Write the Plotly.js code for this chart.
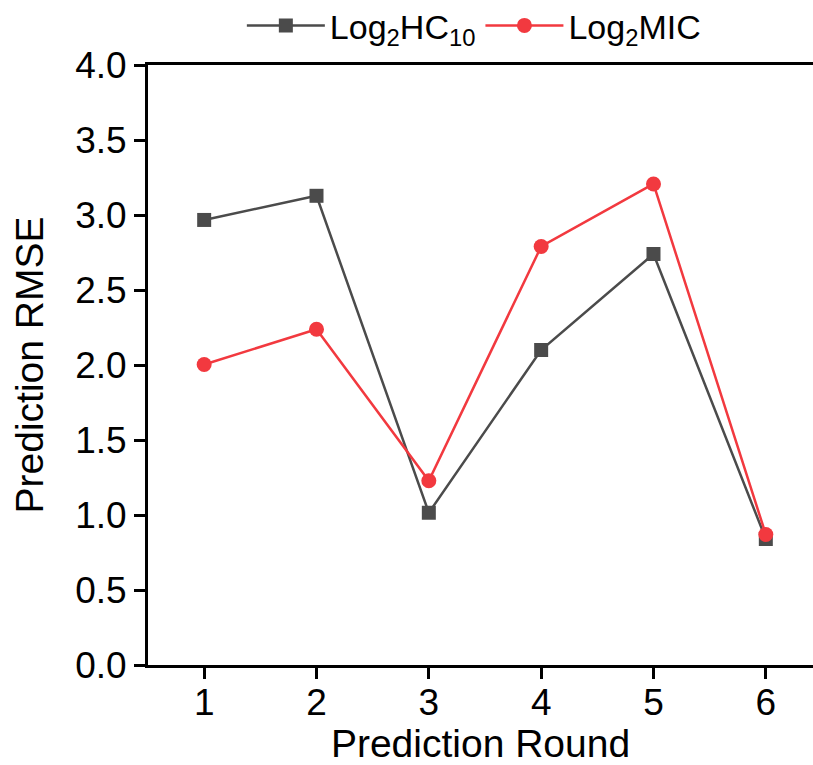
<!DOCTYPE html>
<html>
<head>
<meta charset="utf-8">
<script src="https://cdn.plot.ly/plotly-3.0.1.min.js"></script>
<style>
  html, body { margin: 0; padding: 0; background: #fff; }
  #chart { width: 813px; height: 765px; }
</style>
</head>
<body>
<div id="chart"></div>
<script>
// Prediction RMSE per round for the two targets
const rounds = [1, 2, 3, 4, 5, 6];
const hc10Rmse = [2.967, 3.128, 1.015, 2.10, 2.74, 0.84];
const micRmse = [2.003, 2.238, 1.228, 2.790, 3.207, 0.870];
const yTicks = [0, 0.5, 1, 1.5, 2, 2.5, 3, 3.5, 4];

const family = 'Liberation Sans, Arial, sans-serif';
const tickFont = { family: family, size: 37, color: '#000' };
const titleFont = { family: family, size: 39, color: '#000' };

const traces = [
  {
    x: rounds, y: hc10Rmse, type: 'scatter', mode: 'lines+markers',
    name: 'Log<sub>2</sub>HC<sub>10</sub>',
    line: { color: '#4b4b4b', width: 2.5 },
    marker: { symbol: 'square', size: 14, color: '#4b4b4b' }
  },
  {
    x: rounds, y: micRmse, type: 'scatter', mode: 'lines+markers',
    name: 'Log<sub>2</sub>MIC',
    line: { color: '#f2393f', width: 2.5 },
    marker: { symbol: 'circle', size: 15, color: '#f2393f' }
  }
];

const layout = {
  width: 813, height: 765,
  margin: { l: 148, r: 0, t: 65, b: 100, autoexpand: false },
  paper_bgcolor: '#fff', plot_bgcolor: '#fff',
  font: { family: family, color: '#000' },
  showlegend: true,
  legend: {
    orientation: 'h', x: 0.49, xref: 'paper', xanchor: 'center',
    y: 1.017, yanchor: 'bottom',
    font: { family: family, size: 34, color: '#000' },
    itemwidth: 78, bgcolor: 'rgba(0,0,0,0)'
  },
  xaxis: {
    range: [0.5, 6.42],
    tickvals: rounds, ticktext: rounds.map(String),
    showgrid: false, zeroline: false,
    showline: true, linecolor: '#000', linewidth: 3, mirror: true,
    ticks: 'outside', ticklen: 11, tickwidth: 3, tickcolor: '#000',
    ticklabelstandoff: -8,
    tickfont: tickFont,
    title: { text: 'Prediction Round', font: titleFont, standoff: 19 }
  },
  yaxis: {
    range: [0, 4],
    tickvals: yTicks, ticktext: yTicks.map(v => v.toFixed(1)),
    showgrid: false, zeroline: false,
    showline: true, linecolor: '#000', linewidth: 3, mirror: false,
    ticks: 'outside', ticklen: 11, tickwidth: 3, tickcolor: '#000',
    tickfont: tickFont,
    title: { text: 'Prediction RMSE', font: titleFont, standoff: 20 }
  }
};

Plotly.newPlot('chart', traces, layout, { displayModeBar: false, staticPlot: true });
</script>
</body>
</html>
